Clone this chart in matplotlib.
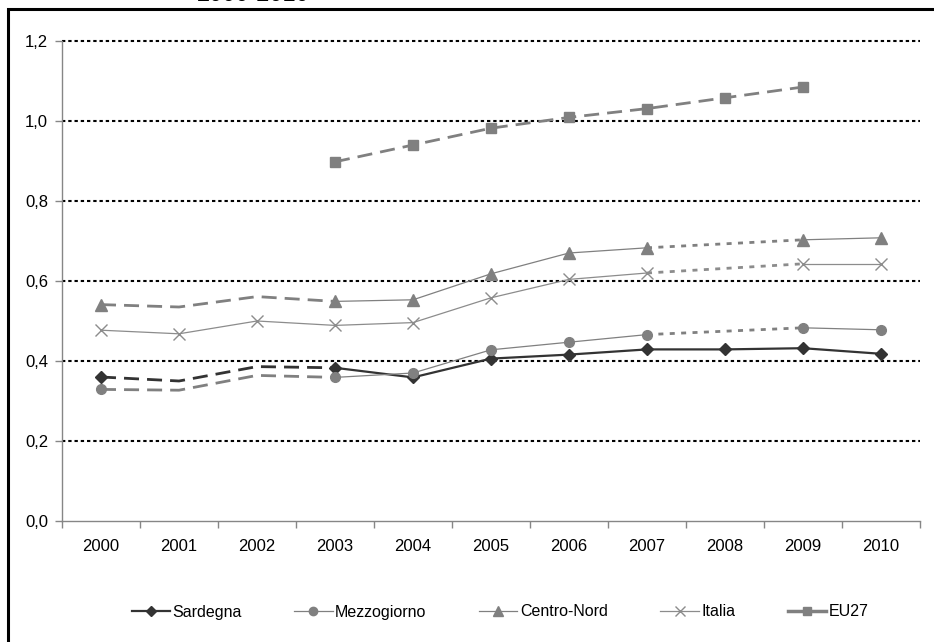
import numpy as np
import matplotlib
matplotlib.use("Agg")
import matplotlib.pyplot as plt
from matplotlib.lines import Line2D
from matplotlib.patches import Rectangle

plt.rcParams['font.family'] = ['Liberation Sans', 'DejaVu Sans']

# Data
years = [2000, 2001, 2002, 2003, 2004, 2005, 2006, 2007, 2008, 2009, 2010]
nan = np.nan
sardegna = [0.360, 0.350, 0.386, 0.383, 0.359, 0.406, 0.416, 0.429, 0.429, 0.432, 0.418]
mezzogiorno = [0.329, 0.327, 0.364, 0.359, 0.370, 0.428, 0.447, 0.466, nan, 0.483, 0.478]
centro_nord = [0.541, 0.535, 0.561, 0.549, 0.553, 0.618, 0.670, 0.683, nan, 0.703, 0.708]
italia = [0.477, 0.468, 0.500, 0.489, 0.496, 0.558, 0.604, 0.620, nan, 0.643, 0.643]
eu27 = [nan, nan, nan, 0.898, 0.940, 0.982, 1.009, 1.031, 1.058, 1.085, nan]
estimated_years = [2001, 2002]  # shown without markers on the dashed stretch
title = "2000-2010"

fig = plt.figure(figsize=(9.34, 6.42), dpi=100)
ax = fig.add_axes([62 / 934, 1 - 521 / 642, 858 / 934, 480 / 642])

x = np.arange(len(years))
dark = "#333333"
grey = "#808080"
light = "#8c8c8c"
dashed = (0, (5.4, 2.9))
dotted = (0, (1.8, 2.3))


def draw(vals, color, thin_lw, marker, ms, first_dashed, dotted_gap, first_lw=2.0):
    v = np.array(vals, dtype=float)
    # first stretch 2000-2003
    ls0 = dashed if first_dashed else "-"
    lw0 = first_lw if first_dashed else thin_lw
    ax.plot(x[:4], v[:4], color=color, lw=lw0, ls=ls0, zorder=3)
    if dotted_gap:
        ax.plot(x[3:8], v[3:8], color=color, lw=thin_lw, zorder=3)
        ax.plot([x[7], x[9]], [v[7], v[9]], color=color, lw=2.0, ls=dotted, zorder=3)
        ax.plot(x[9:], v[9:], color=color, lw=thin_lw, zorder=3)
    else:
        ax.plot(x[3:], v[3:], color=color, lw=thin_lw, zorder=3)
    mask = np.array([not (first_dashed and y in estimated_years) for y in years])
    ax.plot(x[mask], v[mask], ls="none", marker=marker, ms=ms, color=color,
            mec=color, mew=1, zorder=4)


draw(sardegna, dark, 1.6, "D", 6, True, False, first_lw=2.0)
draw(mezzogiorno, grey, 0.9, "o", 7, True, True)
draw(centro_nord, grey, 0.9, "^", 8, True, True)
draw(italia, light, 0.9, "x", 8, False, True)
ax.plot(x, eu27, color=grey, lw=2.0, ls=dashed, marker="s", ms=7, zorder=4)

ax.set_xlim(-0.5, len(years) - 0.5)
ax.set_ylim(0, 1.2)
ax.set_yticks(np.arange(0, 1.21, 0.2))
ax.set_yticklabels([f"{t:.1f}".replace(".", ",") for t in np.arange(0, 1.21, 0.2)])
for t in np.arange(0.2, 1.21, 0.2):
    ax.axhline(t, color="black", lw=1.5, ls=(0, (1.6, 1.4)), zorder=2, clip_on=False)

ax.set_xticks(np.arange(-0.5, len(years), 1.0))
ax.set_xticklabels([])
ax.set_xticks(x, minor=True)
ax.set_xticklabels([str(y) for y in years], minor=True)
ax.tick_params(axis="x", which="major", length=5, color="#868686", width=1)
ax.tick_params(axis="x", which="minor", length=0, pad=13, labelsize=12)
ax.tick_params(axis="y", length=5, color="#868686", width=1, pad=5, labelsize=12)

for s in ["top", "right"]:
    ax.spines[s].set_visible(False)
for s in ["left", "bottom"]:
    ax.spines[s].set_color("#868686")
    ax.spines[s].set_linewidth(1)

handles = [
    Line2D([], [], color=dark, lw=1.6, marker="D", ms=5),
    Line2D([], [], color=grey, lw=0.9, marker="o", ms=6),
    Line2D([], [], color=grey, lw=0.9, marker="^", ms=7),
    Line2D([], [], color=light, lw=0.9, marker="x", ms=7),
    Line2D([], [], color=grey, lw=2.5, marker="s", ms=6),
]
labels = ["Sardegna", "Mezzogiorno", "Centro-Nord", "Italia", "EU27"]
fig.legend(handles, labels, ncol=5, loc="center", bbox_to_anchor=(500 / 934, 1 - 612 / 642),
           frameon=False, fontsize=11.5, handlelength=2.4, handletextpad=0.15,
           columnspacing=3.3)

fig.patches.append(Rectangle((8 / 934, -0.1), 1.2, 1.1 - 9 / 642, transform=fig.transFigure,
                             fill=False, ec="black", lw=2.2))
fig.text(197 / 934, 1 - 6 / 642, title, fontsize=17, ha="left", va="bottom")

fig.savefig("out.png", dpi=100)
